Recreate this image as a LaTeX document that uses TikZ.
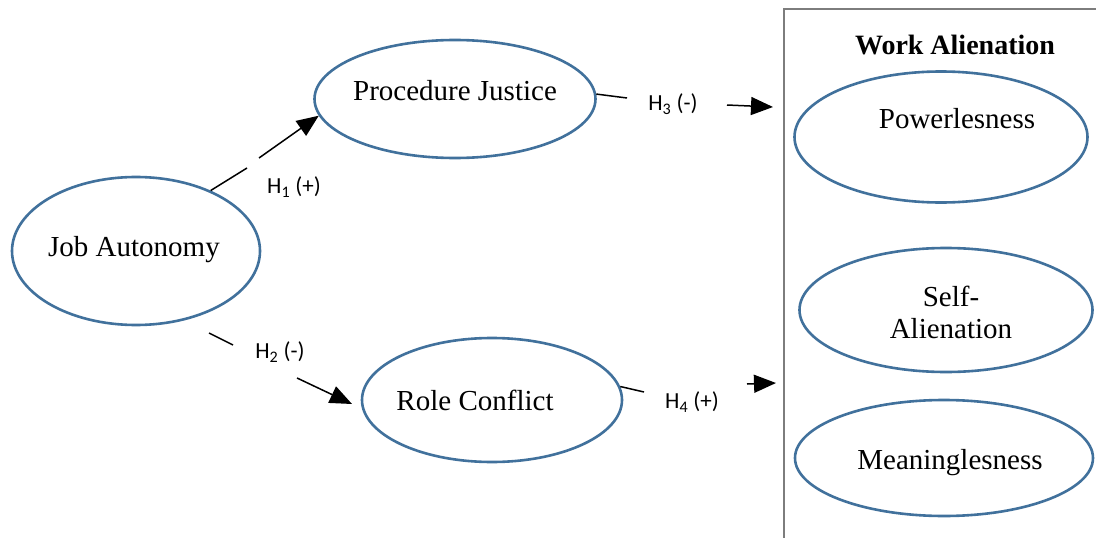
\documentclass[tikz,border=0pt]{standalone}
\usepackage{fontspec}
\setmainfont{Liberation Serif}
\newfontfamily\lblfont{Carlito}
\usetikzlibrary{shapes.geometric,arrows.meta}
\definecolor{ellblue}{RGB}{65,113,156}
\definecolor{boxgray}{RGB}{125,125,125}
\begin{document}
\begin{tikzpicture}[x=1pt,y=-1pt,
  ell/.style={draw=ellblue,line width=2.6pt,ellipse,inner sep=0pt},
  txt/.style={font=\fontsize{29}{34}\selectfont,inner sep=0pt},
  hlbl/.style={font=\lblfont\fontsize{23}{27}\selectfont,inner sep=0pt},
  conn/.style={line width=1.5pt},
  arr/.style={conn,-{Triangle[length=22pt,width=18pt]}}]
\useasboundingbox[fill=white] (0,0) rectangle (1096,538);
% group box
\node[draw=boxgray,line width=1.5pt,minimum width=340pt,minimum height=570pt,anchor=north west,inner sep=0pt] (wa) at (783,8) {};
\node[txt,font=\bfseries\fontsize{28}{33}\selectfont] (watitle) at (955,45) {Work Alienation};
% ellipses
\node[ell,minimum width=248pt,minimum height=148pt] (ja) at (136,251) {};
\node[ell,minimum width=281pt,minimum height=118pt] (pj) at (455,99) {};
\node[ell,minimum width=260pt,minimum height=124pt] (rc) at (492,400) {};
\node[ell,minimum width=293pt,minimum height=131pt] (pw) at (941,137) {};
\node[ell,minimum width=293pt,minimum height=124pt] (sa) at (946,310) {};
\node[ell,minimum width=298pt,minimum height=116pt] (mn) at (944,458) {};
% texts
\node[txt] (tja) at (134,250) {Job Autonomy};
\node[txt] (tpj) at (455,91) {Procedure Justice};
\node[txt] (trc) at (475,400) {Role Conflict};
\node[txt] (tpw) at (957,119) {Powerlesness};
\node[txt] (tsa1) at (951,296) {Self-};
\node[txt] (tsa2) at (951,329) {Alienation};
\node[txt] (tmn) at (950,463) {Meaninglesness};
% H1
\coordinate (g1a) at (247,168);
\coordinate (g1b) at (259,158);
\draw[conn] (ja.39) -- (g1a);
\draw[arr] (g1b) -- (pj.187);
\node[hlbl] (h1) at (294,187) {H\textsubscript{1} (+)};
% H3
\coordinate (h3a) at (627,98);
\coordinate (h3b) at (727,105);
\coordinate (h3e) at (773,107);
\draw[conn] (pj.2) -- (h3a);
\draw[arr] (h3b) -- (h3e);
\node[hlbl] (h3) at (673,104) {H\textsubscript{3} (-)};
% H2
\coordinate (h2s) at (209,333);
\coordinate (h2a) at (233,345);
\coordinate (h2b) at (297,378);
\coordinate (h2e) at (352,404);
\draw[conn] (h2s) -- (h2a);
\draw[arr] (h2b) -- (h2e);
\node[hlbl] (h2) at (280,352) {H\textsubscript{2} (-)};
% H4
\coordinate (h4a) at (644,392);
\coordinate (h4b) at (747,384);
\coordinate (h4e) at (776,383);
\draw[conn] (rc.6) -- (h4a);
\draw[arr] (h4b) -- (h4e);
\node[hlbl] (h4) at (692,402) {H\textsubscript{4} (+)};
\end{tikzpicture}
\end{document}
